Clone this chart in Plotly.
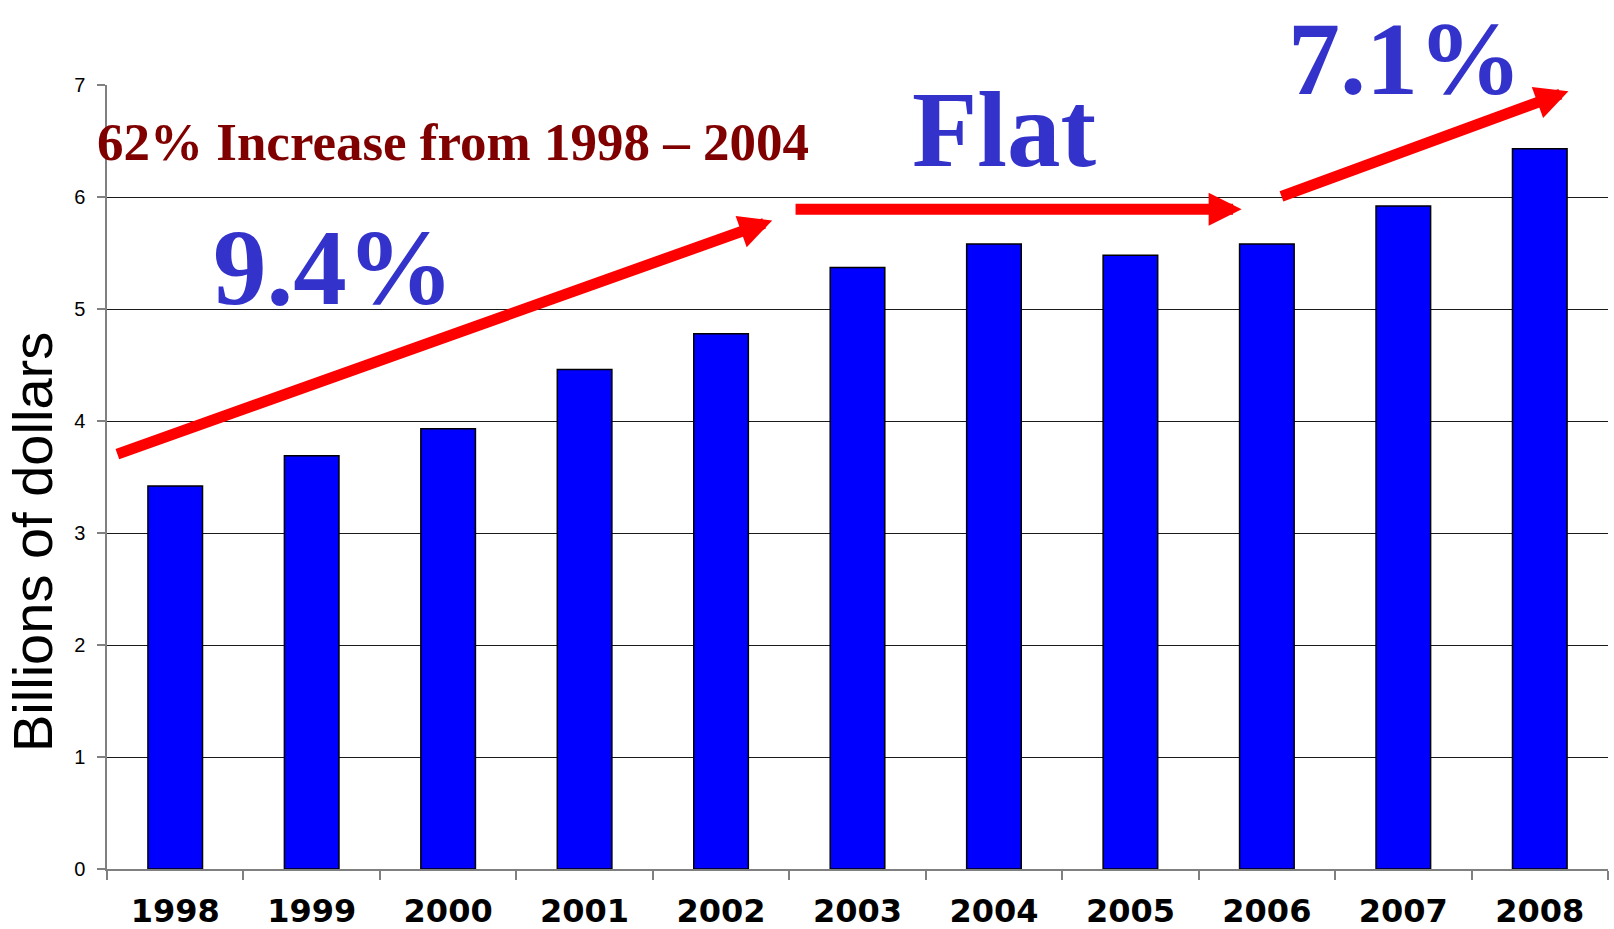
import plotly.graph_objects as go

# Annual spending, billions of dollars
years = ["1998", "1999", "2000", "2001", "2002", "2003", "2004", "2005", "2006", "2007", "2008"]
spending = [3.42, 3.69, 3.93, 4.46, 4.78, 5.37, 5.58, 5.48, 5.58, 5.92, 6.43]
y_ticks = [0, 1, 2, 3, 4, 5, 6, 7]

# Trend callouts: (text, x in category units, y as fraction of plot height, font size)
growth_labels = [
    ("9.4%", 1.16, 0.767, 107),
    ("Flat", 6.074, 0.943, 107),
    ("7.1%", 9.01, 1.034, 104),
]
# Trend arrows: (tail x, tail y, head x, head y) in axis units
trend_arrows = [
    (-0.435, 3.70, 4.375, 5.79),
    (4.535, 5.89, 7.815, 5.89),
    (8.096, 6.00, 10.21, 6.945),
]
headline = "62% Increase from 1998 – 2004"

fig = go.Figure(
    go.Bar(
        x=years,
        y=spending,
        marker=dict(color="#0000FF", line=dict(color="#000000", width=1.5)),
        hoverinfo="skip",
    )
)

annotations = []
for tx, ty, hx, hy in trend_arrows:
    annotations.append(dict(
        x=hx, y=hy, xref="x", yref="y",
        ax=tx, ay=ty, axref="x", ayref="y",
        text="", showarrow=True,
        arrowhead=2, arrowsize=0.6, arrowwidth=11, arrowcolor="#FF0000",
        standoff=0, startstandoff=0,
    ))

for label, lx, ly, fs in growth_labels:
    annotations.append(dict(
        x=lx, y=ly, xref="x", yref="paper", showarrow=False,
        text=label, xanchor="center", yanchor="middle",
        font=dict(family="Liberation Serif, Times New Roman, serif", size=fs,
                  color="#3333CC", weight="bold"),
    ))

annotations.append(dict(
    x=-0.008, y=0.927, xref="paper", yref="paper", showarrow=False,
    text=headline, xanchor="left", yanchor="middle",
    font=dict(family="Liberation Serif, Times New Roman, serif", size=53,
              color="#800000", weight="bold"),
))

annotations.append(dict(
    x=-0.05, y=0.417, xref="paper", yref="paper", showarrow=False,
    text="Billions of dollars", textangle=-90,
    xanchor="center", yanchor="middle",
    font=dict(family="Liberation Sans, Arial, sans-serif", size=56, color="#000000"),
))

fig.update_layout(
    width=1614, height=929,
    margin=dict(l=107, r=6, t=85, b=60, autoexpand=False),
    paper_bgcolor="white", plot_bgcolor="white",
    showlegend=False,
    bargap=0.6,
    annotations=annotations,
    xaxis=dict(
        type="category",
        range=[-0.5, len(years) - 0.5],
        automargin=False,
        tickson="boundaries",
        ticks="outside", ticklen=9, tickwidth=1.5, tickcolor="#808080",
        showline=True, linecolor="#808080", linewidth=1.5,
        showgrid=False,
        tickfont=dict(family="DejaVu Sans, Arial, sans-serif", size=32,
                      color="#000000", weight="bold"),
        ticklabelstandoff=13,
    ),
    yaxis=dict(
        range=[0, 7],
        automargin=False,
        tickmode="array", tickvals=y_ticks,
        ticks="outside", ticklen=8, tickwidth=1.5, tickcolor="#808080",
        showline=True, linecolor="#808080", linewidth=1.5,
        showgrid=True, gridcolor="#1a1a1a", gridwidth=1,
        zeroline=False,
        tickfont=dict(family="Liberation Sans, Arial, sans-serif", size=20, color="#000000"),
        ticklabelstandoff=8,
    ),
)

fig.write_html("out.html")
